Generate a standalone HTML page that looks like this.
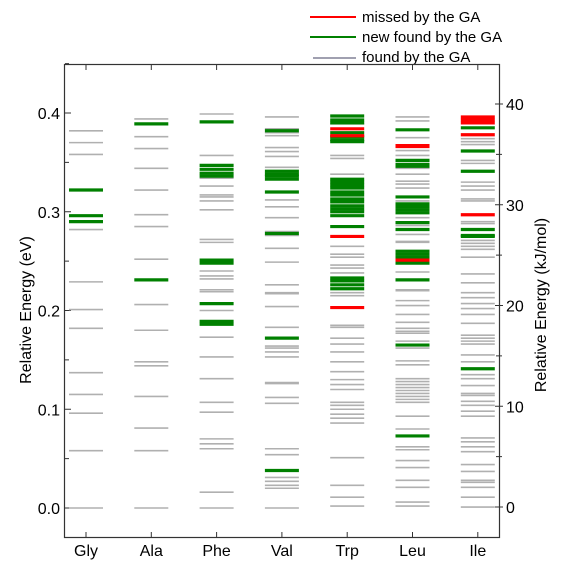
<!DOCTYPE html>
<html><head><meta charset="utf-8"><style>
body{margin:0;background:#fff;}
svg{display:block;font-family:"Liberation Sans",sans-serif;}
</style></head><body>
<svg id="chart" width="570" height="561">
<g id="legend">
 <g><line x1="310" y1="17" x2="356" y2="17" stroke="#ff0000" stroke-width="2"/><text x="362" y="22" font-size="15">missed by the GA</text></g>
 <g><line x1="310" y1="37" x2="356" y2="37" stroke="#008000" stroke-width="2"/><text x="362" y="42" font-size="15">new found by the GA</text></g>
 <g><line x1="313" y1="58" x2="356" y2="58" stroke="#a0a0b0" stroke-width="2"/><text x="362" y="62" font-size="15">found by the GA</text></g>
</g>
<rect x="64.5" y="64.5" width="435" height="473" fill="none" stroke="#333" stroke-width="1.2"/>
<g id="axes"></g>
<g id="marks"></g>
<text x="0" y="0" font-size="16" text-anchor="middle" transform="translate(31,310) rotate(-90)">Relative Energy (eV)</text>
<text x="0" y="0" font-size="16" text-anchor="middle" transform="translate(546,305) rotate(-90)">Relative Energy (kJ/mol)</text>
</svg>
<script>
const categories=["Gly","Ala","Phe","Val","Trp","Leu","Ile"];
const leftTicks=["0.0","0.1","0.2","0.3","0.4"];
const leftTickValues=[0,0.1,0.2,0.3,0.4];
const rightTicks=["0","10","20","30","40"];
const rightTickValues=[0,10,20,30,40];
const glyGray=[.382,.370,.358,.282,.229,.201,.182,.137,.115,.096,.058,0];
const glyGreen=[.322,.296,.290];
const glyRed=[];
const alaGray=[.394,.376,.364,.344,.322,.297,.285,.252,.206,.180,.148,.144,.113,.081,.058,0];
const alaGreen=[.389,.231];
const alaRed=[];
const pheGray=[.399,.357,.334,.326,.317,.315,.311,.302,.272,.269,.240,.235,.232,.221,.219,.200,.173,.153,.131,.107,.097,.070,.065,.060,.016,0];
const pheGreen=[.391,.347,.343,.339,.336,.251,.248,.207,.189,.186];
const pheRed=[];
const valGray=[.396,.384,.380,.377,.365,.361,.356,.345,.312,.305,.294,.280,.276,.263,.249,.226,.218,.217,.204,.183,.164,.162,.158,.153,.127,.126,.112,.106,.060,.054,.031,.027,.023,.020,0];
const valGreen=[.382,.341,.338,.336,.333,.320,.278,.172,.038];
const valRed=[];
const trpGray=[.389,.357,.354,.338,.265,.257,.254,.246,.243,.238,.218,.215,.185,.183,.172,.166,.158,.148,.138,.130,.125,.120,.107,.104,.100,.095,.091,.086,.051,.023,.011,.002];
const trpGreen=[.397,.393,.390,.380,.376,.373,.371,.333,.330,.327,.324,.320,.317,.313,.310,.306,.303,.300,.296,.285,.233,.230,.226,.222];
const trpRed=[.384,.377,.275,.203];
const leuGray=[.396,.392,.375,.362,.357,.344,.338,.331,.328,.324,.311,.294,.286,.277,.270,.269,.239,.221,.220,.210,.205,.196,.188,.182,.179,.177,.169,.162,.149,.145,.131,.128,.125,.122,.119,.116,.113,.110,.107,.093,.080,.062,.059,.048,.041,.028,.021,.006,.002];
const leuGreen=[.383,.352,.348,.346,.315,.308,.305,.302,.299,.289,.282,.260,.257,.254,.248,.231,.165,.073];
const leuRed=[.367,.366,.251];
const ileGray=[.374,.371,.368,.352,.349,.330,.326,.322,.313,.311,.290,.288,.271,.268,.265,.262,.254,.237,.228,.218,.213,.207,.202,.196,.187,.175,.172,.169,.166,.155,.148,.135,.131,.124,.116,.114,.108,.104,.098,.093,.071,.067,.062,.057,.044,.037,.028,.026,.021,.011,.001];
const ileGreen=[.385,.3615,.341,.282,.276,.275,.141];
const ileRed=[.396,.393,.390,.378,.297];
const grayLevels=[glyGray,alaGray,pheGray,valGray,trpGray,leuGray,ileGray];
const greenLevels=[glyGreen,alaGreen,pheGreen,valGreen,trpGreen,leuGreen,ileGreen];
const redLevels=[glyRed,alaRed,pheRed,valRed,trpRed,leuRed,ileRed];

const NS="http://www.w3.org/2000/svg";
function yEv(v){return 508-v*987.5;}
function yKj(v){return 507-v*10.075;}
function xCat(i){return 86+i*65.3;}
function mk(t,a,p){const e=document.createElementNS(NS,t);for(const k in a)e.setAttribute(k,a[k]);p.appendChild(e);return e;}
const axes=document.getElementById('axes');
const marks=document.getElementById('marks');
leftTickValues.forEach((v,i)=>{
 const t=mk('line',{x1:65,x2:71,y1:yEv(v),y2:yEv(v),stroke:'#333'},axes);
 
 
 const l=mk('text',{x:60,y:yEv(v)+6,'font-size':16,'text-anchor':'end'},axes);l.textContent=leftTicks[i];
 
 
 const m=mk('line',{x1:65,x2:69,y1:yEv(v+0.05),y2:yEv(v+0.05),stroke:'#333'},axes);
 
 
});
rightTickValues.forEach((v,i)=>{
 const t=mk('line',{x1:495,x2:503,y1:yKj(v),y2:yKj(v),stroke:'#333'},axes);
 
 
 const l=mk('text',{x:506,y:yKj(v)+6,'font-size':16},axes);l.textContent=rightTicks[i];
 
 
 if(v<40){const m=mk('line',{x1:496,x2:502,y1:yKj(v+5),y2:yKj(v+5),stroke:'#333'},axes);
 
 }
});
categories.forEach((c,i)=>{
 const x=xCat(i);
 const b=mk('line',{x1:x,x2:x,y1:537,y2:532,stroke:'#333'},axes);
 
 
 const t=mk('line',{x1:x,x2:x,y1:65,y2:70,stroke:'#333'},axes);
 
 
 const l=mk('text',{x:x,y:556,'font-size':16,'text-anchor':'middle'},axes);l.textContent=c;
 
 
});
function drawSet(sets,color,w,name){
 sets.forEach((arr,i)=>{const x=xCat(i);arr.forEach(v=>{
  const e=mk('line',{x1:x-17,x2:x+17,y1:yEv(v),y2:yEv(v),stroke:color,'stroke-width':w},marks);
  
  
 });});
}
drawSet(grayLevels,'#b0b0b0',1.6,'found-level');
drawSet(greenLevels,'#008000',3.2,'new-found-level');
drawSet(redLevels,'#ff0000',3.2,'missed-level');
</script>
</body></html>
